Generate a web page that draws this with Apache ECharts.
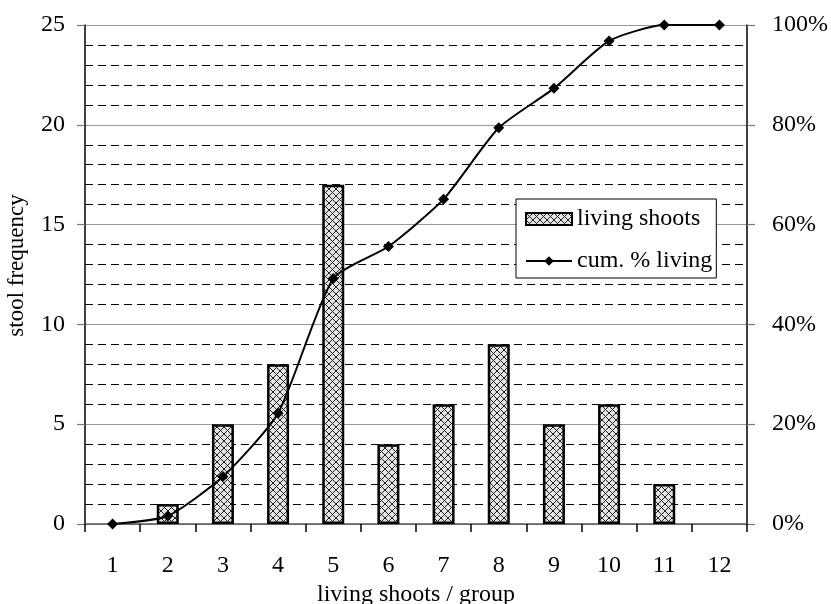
<!DOCTYPE html>
<html>
<head>
<meta charset="utf-8">
<script src="https://cdn.jsdelivr.net/npm/echarts@6/dist/echarts.min.js"></script>
<style>
  html, body { margin: 0; padding: 0; background: #fff; }
  #chart { width: 831px; height: 604px; }
</style>
</head>
<body>
<div id="chart"></div>
<script>
const categories = ['1', '2', '3', '4', '5', '6', '7', '8', '9', '10', '11', '12'];
const shoots = [0, 1, 5, 8, 17, 4, 6, 9, 5, 6, 2, 0];
const cumPct = [0, 1.6, 9.5, 22.2, 49.2, 55.6, 65.1, 79.4, 87.3, 96.8, 100, 100];

const font = 'Liberation Serif';

// crosshatch fill for the bars
const makeHatch = () => {
    const c = document.createElement('canvas');
    c.width = 7;
    c.height = 7;
    const ctx = c.getContext('2d');
    ctx.fillStyle = '#e4e4e4';
    ctx.fillRect(0, 0, 7, 7);
    ctx.strokeStyle = '#222';
    ctx.lineWidth = 1;
    ctx.beginPath();
    ctx.moveTo(0, 0); ctx.lineTo(7, 7);
    ctx.moveTo(7, 0); ctx.lineTo(0, 7);
    ctx.stroke();
    return c;
};
const hatch = makeHatch();

// zero-height bars show no outline
const barData = shoots.map(v => v === 0 ? { value: v, itemStyle: { borderWidth: 0 } } : v);

const myChart = echarts.init(document.getElementById('chart'));
const option = {
    animation: false,
    backgroundColor: '#fff',
    textStyle: { fontFamily: font, color: '#000' },
    grid: { left: 85, right: 84, top: 25, bottom: 80, containLabel: false, outerBoundsMode: 'none' },
    legend: {
        orient: 'vertical',
        left: 516,
        top: 199,
        backgroundColor: '#fff',
        borderColor: '#000',
        borderWidth: 1,
        padding: [8, 4, 5, 9],
        itemGap: 18,
        itemWidth: 46,
        itemHeight: 12,
        textStyle: { fontFamily: font, fontSize: 24, color: '#000' },
        data: [
            { name: 'living shoots', icon: 'rect' },
            { name: 'cum. % living' }
        ]
    },
    xAxis: {
        type: 'category',
        data: categories,
        boundaryGap: true,
        name: 'living shoots / group',
        nameLocation: 'middle',
        nameGap: 56,
        nameTextStyle: { fontFamily: font, fontSize: 24, color: '#000' },
        axisLine: { lineStyle: { color: '#555', width: 1.5 } },
        axisTick: { show: true, length: 8, inside: false, lineStyle: { color: '#000', width: 1.5 } },
        axisLabel: { fontFamily: font, fontSize: 24, color: '#000', margin: 30 },
        splitLine: { show: false }
    },
    yAxis: [
        {
            type: 'value',
            min: 0,
            max: 25,
            interval: 5,
            name: 'stool frequency',
            nameLocation: 'middle',
            nameGap: 57,
            nameTextStyle: { fontFamily: font, fontSize: 23, color: '#000', padding: [0, 0, 0, 18] },
            axisLine: { show: true, lineStyle: { color: '#000', width: 1.5 } },
            axisTick: { show: true, length: 8, lineStyle: { color: '#777', width: 1.2 } },
            axisLabel: { fontFamily: font, fontSize: 24, color: '#000', margin: 20 },
            splitLine: { show: true, lineStyle: { color: '#999', width: 1.2 } },
            minorTick: { show: false, splitNumber: 5 },
            minorSplitLine: { show: true, lineStyle: { color: '#000', type: [8, 5], width: 1 } }
        },
        {
            type: 'value',
            min: 0,
            max: 100,
            interval: 20,
            position: 'right',
            axisLine: { show: true, lineStyle: { color: '#000', width: 1.5 } },
            axisTick: { show: true, length: 8, lineStyle: { color: '#777', width: 1.2 } },
            axisLabel: { fontFamily: font, fontSize: 24, color: '#000', margin: 25, formatter: '{value}%' },
            splitLine: { show: false }
        }
    ],
    series: [
        {
            name: 'living shoots',
            type: 'bar',
            yAxisIndex: 0,
            barWidth: 22,
            data: barData,
            itemStyle: {
                color: { image: hatch, repeat: 'repeat' },
                borderColor: '#000',
                borderWidth: 2.5
            }
        },
        {
            name: 'cum. % living',
            type: 'line',
            yAxisIndex: 1,
            data: cumPct,
            smooth: 0.2,
            symbol: 'diamond',
            symbolSize: 11,
            itemStyle: { color: '#000' },
            lineStyle: { color: '#000', width: 2 }
        }
    ]
};
myChart.setOption(option);
</script>
</body>
</html>
